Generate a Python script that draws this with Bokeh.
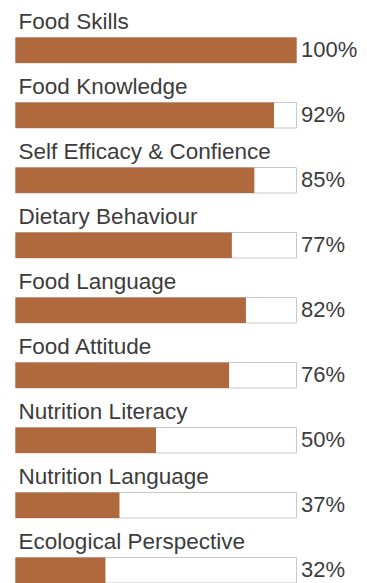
from bokeh.plotting import figure
from bokeh.models import Range1d, ColumnDataSource
from bokeh.core.properties import value
from bokeh.embed import file_html
from bokeh.resources import INLINE

categories = ["Food Skills", "Food Knowledge", "Self Efficacy & Confience",
              "Dietary Behaviour", "Food Language", "Food Attitude",
              "Nutrition Literacy", "Nutrition Language", "Ecological Perspective"]
values = [100, 92, 85, 77, 82, 76, 50, 37, 32]
value_labels = ["100%", "92%", "85%", "77%", "82%", "76%", "50%", "37%", "32%"]

ROW = 65.0  # pixels per row
rows = [-i for i in range(len(categories))]
src = ColumnDataSource(dict(
    y=rows,
    v=values,
    full=[100] * len(values),
    cat=categories,
    lab=value_labels,
    ylab=[r + 28.5 / ROW for r in rows],
    yval=[r + 0.5 / ROW for r in rows],
))

W, H = 367, 583
k = 2.81
xs = -15 / k
top = 49.75 / ROW
p = figure(width=W, height=H, output_backend="svg", toolbar_location=None,
           x_range=Range1d(xs, xs + W / k),
           y_range=Range1d(top - H / ROW, top),
           min_border=0, min_border_left=0, min_border_right=0,
           min_border_top=0, min_border_bottom=0)
p.axis.visible = False
p.grid.visible = False
p.outline_line_color = None
p.background_fill_color = "white"
p.border_fill_color = "white"

p.hbar(y="y", left=0, right="full", height=25.5 / ROW, source=src,
       fill_color="white", line_color="#c9c9c9", line_width=1)
p.hbar(y="y", left=0, right="v", height=25.5 / ROW, source=src,
       fill_color="#b0693c", line_color=None)

p.text(x=1.1, y="ylab", text="cat", source=src,
       text_font=value("Liberation Sans"), text_font_size="22.5px",
       text_color="#3c3c3c", text_baseline="alphabetic", text_align="left")
p.text(x=100, y="yval", text="lab", source=src, x_offset=4.5,
       text_font=value("Liberation Sans"), text_font_size="22px",
       text_color="#3c3c3c", text_baseline="alphabetic", text_align="left")

open("out.html", "w").write(file_html(p, INLINE))
